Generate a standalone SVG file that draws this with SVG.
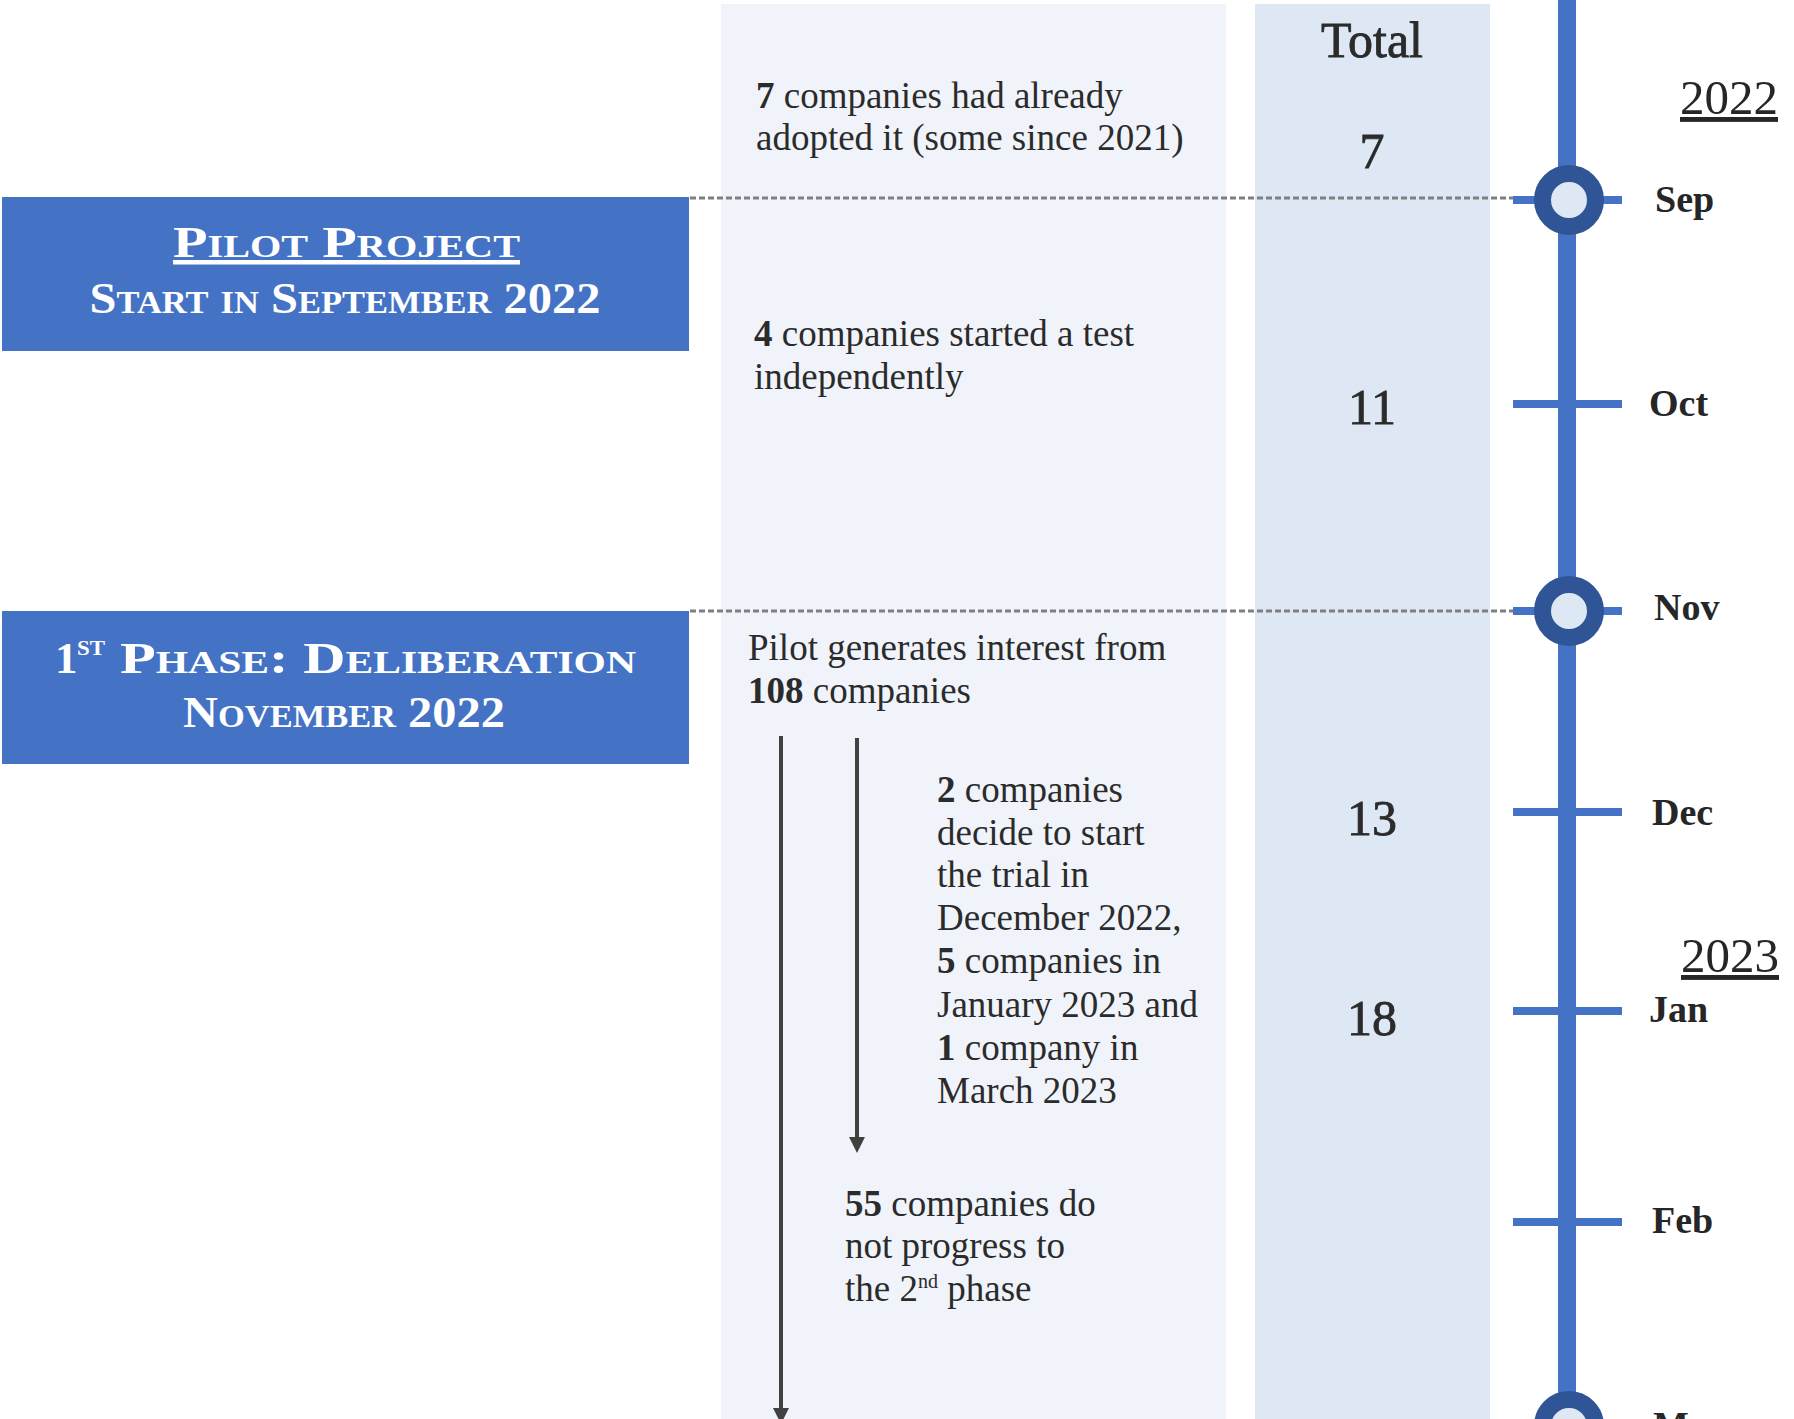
<svg xmlns="http://www.w3.org/2000/svg" width="1794" height="1419" viewBox="0 0 1794 1419">
  <style>
    .box { fill: #4472C4; }
    .boxtxt { font-family: "Liberation Serif", "Times New Roman", serif; font-weight: bold; font-size: 45px; fill: #FFFFFF; font-variant: small-caps; }
    .body { font-family: "Liberation Serif", "Times New Roman", serif; font-size: 37px; fill: #2B2B2B; }
    .b { font-weight: bold; }
    .num { font-family: "Liberation Serif", "Times New Roman", serif; font-size: 50px; fill: #2B2B2B; stroke: #2B2B2B; stroke-width: 0.8; text-anchor: middle; }
    .month { font-family: "Liberation Serif", "Times New Roman", serif; font-size: 38px; font-weight: bold; fill: #262626; }
    .year { font-family: "Liberation Serif", "Times New Roman", serif; font-size: 49px; fill: #262626; text-decoration: underline; }
    .tick { fill: #4472C4; }
    .ring { fill: #DEE8F5; stroke: #2F5597; stroke-width: 17; }
    .dash { stroke: #7F7F7F; stroke-width: 3; stroke-dasharray: 6 3; fill: none; }
    .arrow { stroke: #404040; stroke-width: 4; fill: none; }
  </style>
  <defs>
    <marker id="head" markerUnits="userSpaceOnUse" markerWidth="16" markerHeight="16" viewBox="0 0 16 16" refX="0" refY="8" orient="auto">
      <path d="M0,0 L16,8 L0,16 z" fill="#404040"/>
    </marker>
  </defs>

  <rect width="1794" height="1419" fill="#FFFFFF"/>

  <!-- columns -->
  <g id="panel-events">
    <rect x="721" y="4" width="505" height="1415" fill="#F0F4FA"/>
  </g>
  <g id="panel-total">
    <rect x="1255" y="4" width="235" height="1415" fill="#DEE8F5"/>
    <text class="num" x="1372" y="57" font-size="42" stroke-width="0.6">Total</text>
  </g>

  <!-- phase boxes -->
  <g id="box-pilot">
    <rect class="box" x="2" y="197" width="687" height="154"/>
    <text class="boxtxt" x="346.5" y="257" text-anchor="middle" text-decoration="underline" textLength="347" lengthAdjust="spacingAndGlyphs">Pilot Project</text>
    <text class="boxtxt" x="345" y="313" text-anchor="middle" textLength="511" lengthAdjust="spacingAndGlyphs">Start in September 2022</text>
  </g>
  <g id="box-phase1">
    <rect class="box" x="2" y="611" width="687" height="153"/>
    <text class="boxtxt" y="673"><tspan x="55">1</tspan><tspan x="77" y="655" font-size="29" textLength="28" lengthAdjust="spacingAndGlyphs">st</tspan><tspan x="120" y="673" textLength="516" lengthAdjust="spacingAndGlyphs">Phase: Deliberation</tspan></text>
    <text class="boxtxt" x="344" y="727" text-anchor="middle" textLength="322" lengthAdjust="spacingAndGlyphs">November 2022</text>
  </g>

  <!-- event texts -->
  <g id="event-adopted">
    <text class="body" x="756" y="108"><tspan class="b">7</tspan> companies had already</text>
    <text class="body" x="756" y="150">adopted it (some since 2021)</text>
  </g>
  <g id="event-test">
    <text class="body" x="754" y="346"><tspan class="b">4</tspan> companies started a test</text>
    <text class="body" x="754" y="389">independently</text>
  </g>
  <g id="event-interest">
    <text class="body" x="748" y="660">Pilot generates interest from</text>
    <text class="body" x="748" y="703"><tspan class="b">108</tspan> companies</text>
  </g>
  <g id="event-trial">
    <text class="body" x="937" y="802"><tspan class="b">2</tspan> companies</text>
    <text class="body" x="937" y="845">decide to start</text>
    <text class="body" x="937" y="887">the trial in</text>
    <text class="body" x="937" y="930">December 2022,</text>
    <text class="body" x="937" y="973"><tspan class="b">5</tspan> companies in</text>
    <text class="body" x="937" y="1017">January 2023 and</text>
    <text class="body" x="937" y="1060"><tspan class="b">1</tspan> company in</text>
    <text class="body" x="937" y="1103">March 2023</text>
  </g>
  <g id="event-dropout">
    <text class="body" x="845" y="1216"><tspan class="b">55</tspan> companies do</text>
    <text class="body" x="845" y="1258">not progress to</text>
    <text class="body" x="845" y="1301">the 2<tspan font-size="20" dy="-13">nd</tspan><tspan dy="13"> phase</tspan></text>
  </g>

  <!-- totals -->
  <g id="totals">
    <text class="num" x="1372" y="168">7</text>
    <text class="num" x="1372" y="424">11</text>
    <text class="num" x="1372" y="835">13</text>
    <text class="num" x="1372" y="1035">18</text>
  </g>

  <!-- connectors -->
  <g id="connectors">
    <line class="dash" x1="690" y1="198" x2="1540" y2="198"/>
    <line class="dash" x1="690" y1="611" x2="1540" y2="611"/>
    <line class="arrow" x1="857" y1="738" x2="857" y2="1137" marker-end="url(#head)"/>
    <line class="arrow" x1="781" y1="736" x2="781" y2="1408" marker-end="url(#head)"/>
  </g>

  <!-- timeline -->
  <g id="timeline">
    <rect x="1558" y="0" width="18" height="1425" fill="#4472C4"/>
    <rect class="tick" x="1513" y="196" width="109" height="8"/>
    <rect class="tick" x="1513" y="400" width="109" height="8"/>
    <rect class="tick" x="1513" y="607" width="109" height="8"/>
    <rect class="tick" x="1513" y="808" width="109" height="8"/>
    <rect class="tick" x="1513" y="1007" width="109" height="8"/>
    <rect class="tick" x="1513" y="1218" width="109" height="8"/>
    <circle class="ring" cx="1569" cy="200" r="26.5"/>
    <circle class="ring" cx="1569" cy="611" r="26.5"/>
    <circle class="ring" cx="1569" cy="1426" r="26.5"/>
  </g>
  <g id="labels-months">
    <text class="year" x="1680" y="114">2022</text>
    <text class="month" x="1655" y="212">Sep</text>
    <text class="month" x="1649" y="416">Oct</text>
    <text class="month" x="1654" y="620">Nov</text>
    <text class="month" x="1652" y="825">Dec</text>
    <text class="year" x="1681" y="972">2023</text>
    <text class="month" x="1649" y="1022">Jan</text>
    <text class="month" x="1652" y="1233">Feb</text>
    <text class="month" x="1653" y="1438">Mar</text>
  </g>
</svg>
